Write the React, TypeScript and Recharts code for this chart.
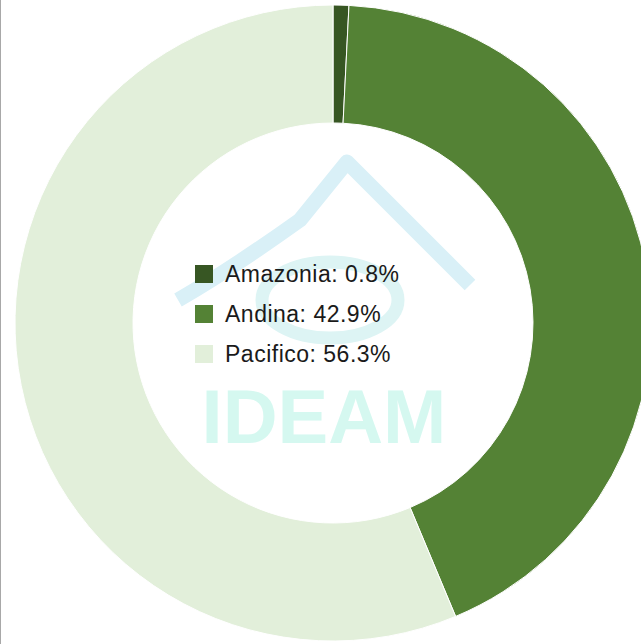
import React from "react";
import { PieChart, Pie, Cell, Legend } from "recharts";

const regions = ["Amazonia", "Andina", "Pacifico"];
const shares = [0.8, 42.9, 56.3];
const colors = ["#375623", "#548235", "#e2efda"];

const data = regions.map((name, i) => ({ name, value: shares[i] }));

function CenterLegend(props: any) {
  const { payload } = props;
  return (
    <div style={{ fontFamily: "'Liberation Sans', Arial, sans-serif", fontSize: 23, letterSpacing: 0.5, color: "#1a1a1a", textAlign: "left" }}>
      {(payload || []).map((p: any, i: number) => (
        <div key={i} style={{ display: "flex", alignItems: "center", height: 40 }}>
          <span style={{ width: 18, height: 18, background: colors[i], marginRight: 12, display: "inline-block" }} />
          <span>{`${p.value}: ${shares[i]}%`}</span>
        </div>
      ))}
    </div>
  );
}

export default function App() {
  return (
    <div style={{ position: "fixed", left: 0, top: 0, width: 641, height: 644, overflow: "hidden", background: "#fff" }}>
      {/* watermark */}
      <svg width={641} height={644} style={{ position: "absolute", left: 0, top: 0 }}>
        <path d="M178,300 Q230,270 300,220 L347,162 L470,285" fill="none" stroke="#d9f0f7" strokeWidth={15} strokeLinejoin="round" />
        <ellipse cx={330} cy={300} rx={68} ry={38} fill="none" stroke="#ddf4f4" strokeWidth={13} />
        <text x={324} y={443} textAnchor="middle" fontFamily="'Liberation Sans', Arial, sans-serif" fontWeight="bold" fontSize={76} fill="#d5f8f0">IDEAM</text>
      </svg>
      <div style={{ position: "absolute", left: 0, top: 0 }}>
        <PieChart width={641} height={644} margin={{ top: 0, right: 0, bottom: 0, left: 0 }}>
          <Pie
            data={data}
            dataKey="value"
            nameKey="name"
            cx={333}
            cy={323}
            innerRadius={200}
            outerRadius={318}
            startAngle={90}
            endAngle={-270}
            stroke="#ffffff"
            strokeWidth={1}
            isAnimationActive={false}
          >
            {data.map((d, i) => (
              <Cell key={d.name} fill={colors[i]} />
            ))}
          </Pie>
          <Legend
            layout="vertical"
            verticalAlign="middle"
            align="center"
            content={<CenterLegend />}
            wrapperStyle={{ left: 195, top: 254, width: 240 }}
          />
        </PieChart>
      </div>
      <div style={{ position: "absolute", left: 0, top: 0, width: 1, height: 644, background: "#a8a8a8" }} />
    </div>
  );
}
